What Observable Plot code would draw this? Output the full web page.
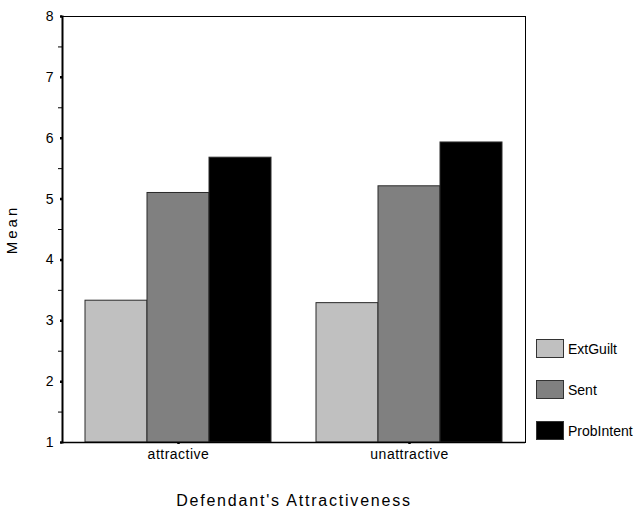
<!DOCTYPE html>
<html>
<head>
<meta charset="utf-8">
<script src="https://cdn.jsdelivr.net/npm/d3@7"></script>
<script src="https://cdn.jsdelivr.net/npm/@observablehq/plot@0.6"></script>
<style>
  body { margin: 0; background: #fff; font-family: "Liberation Sans", Arial, sans-serif; }
  #wrap { position: relative; width: 637px; height: 512px; }
  #legend { position: absolute; left: 536px; top: 339px; font-size: 14px; color: #000; }
  .item { position: absolute; left: 0; display: flex; align-items: center; white-space: nowrap; }
  .sw { width: 26px; height: 17px; border: 1px solid #333; margin-right: 4px; box-sizing: content-box; }
</style>
</head>
<body>
<div id="wrap"><div id="legend"></div></div>
<script>
const groups = ["attractive", "unattractive"];
const series = ["ExtGuilt", "Sent", "ProbIntent"];
const extGuilt = [3.33, 3.29];
const sent = [5.10, 5.21];
const probIntent = [5.68, 5.93];
const seriesColors = ["#c0c0c0", "#808080", "#000000"];
const yMajorTicks = [1, 2, 3, 4, 5, 6, 7, 8];
const yMinorTicks = [1.5, 2.5, 3.5, 4.5, 5.5, 6.5, 7.5];
const yTitle = "Mean";
const xTitle = "Defendant's Attractiveness";

const seriesValues = [extGuilt, sent, probIntent];
const barW = 62;

const barMarks = series.map((s, i) =>
  Plot.barY(groups.map((g, j) => ({group: g, value: seriesValues[i][j]})), {
    x: "group",
    y1: 1,
    y2: "value",
    fill: seriesColors[i],
    stroke: "#2a2a2a",
    strokeWidth: 1,
    insetLeft: i * barW,
    insetRight: (series.length - 1 - i) * barW
  })
);

const chart = Plot.plot({
  width: 637,
  height: 512,
  marginTop: 16,
  marginLeft: 62,
  marginRight: 112,
  marginBottom: 70,
  style: {fontFamily: "'Liberation Sans', Arial, sans-serif", fontSize: "14px", background: "#fff", color: "#000"},
  x: {domain: groups, paddingInner: 0.1965, paddingOuter: 0.0983, label: null},
  y: {domain: [1, 8], label: null},
  marks: [
    ...barMarks,
    Plot.axisY({ticks: yMinorTicks, tickSize: 4, tickFormat: () => "", strokeWidth: 1, label: null}),
    Plot.axisY({ticks: yMajorTicks, tickSize: 2, strokeWidth: 2.5, tickPadding: 7, tickFormat: d3.format("d"), fontSize: 14, label: null}),
    Plot.axisX({tickSize: 2, strokeWidth: 2.5, tickPadding: 5, fontSize: 14, label: null}),
    Plot.text([yTitle], {frameAnchor: "left", dx: -50, rotate: -90, textAnchor: "middle", fontSize: 15, text: d => d}),
    Plot.text([xTitle], {frameAnchor: "bottom", dy: 63, textAnchor: "middle", fontSize: 16, text: d => d}),
    Plot.frame({stroke: "#000", strokeWidth: 1}),
    Plot.frame({anchor: "left", stroke: "#000", strokeWidth: 2}),
    Plot.ruleY([1], {stroke: "#000", strokeWidth: 1.5})
  ]
});

// letter spacing to match the reference's wide text rendering
d3.select(chart).selectAll("text").each(function() {
  const t = this.textContent;
  if (t === yTitle) this.style.letterSpacing = "3px";
  else if (t === xTitle) this.style.letterSpacing = "1.8px";
  else if (groups.includes(t)) this.style.letterSpacing = "0.5px";
});

const wrap = document.getElementById("wrap");
wrap.insertBefore(chart, wrap.firstChild);

const legend = document.getElementById("legend");
series.forEach((s, i) => {
  const item = document.createElement("div");
  item.className = "item";
  item.style.top = (i * 41) + "px";
  const sw = document.createElement("div");
  sw.className = "sw";
  sw.style.background = seriesColors[i];
  const label = document.createElement("span");
  label.textContent = s;
  item.appendChild(sw);
  item.appendChild(label);
  legend.appendChild(item);
});
</script>
</body>
</html>
